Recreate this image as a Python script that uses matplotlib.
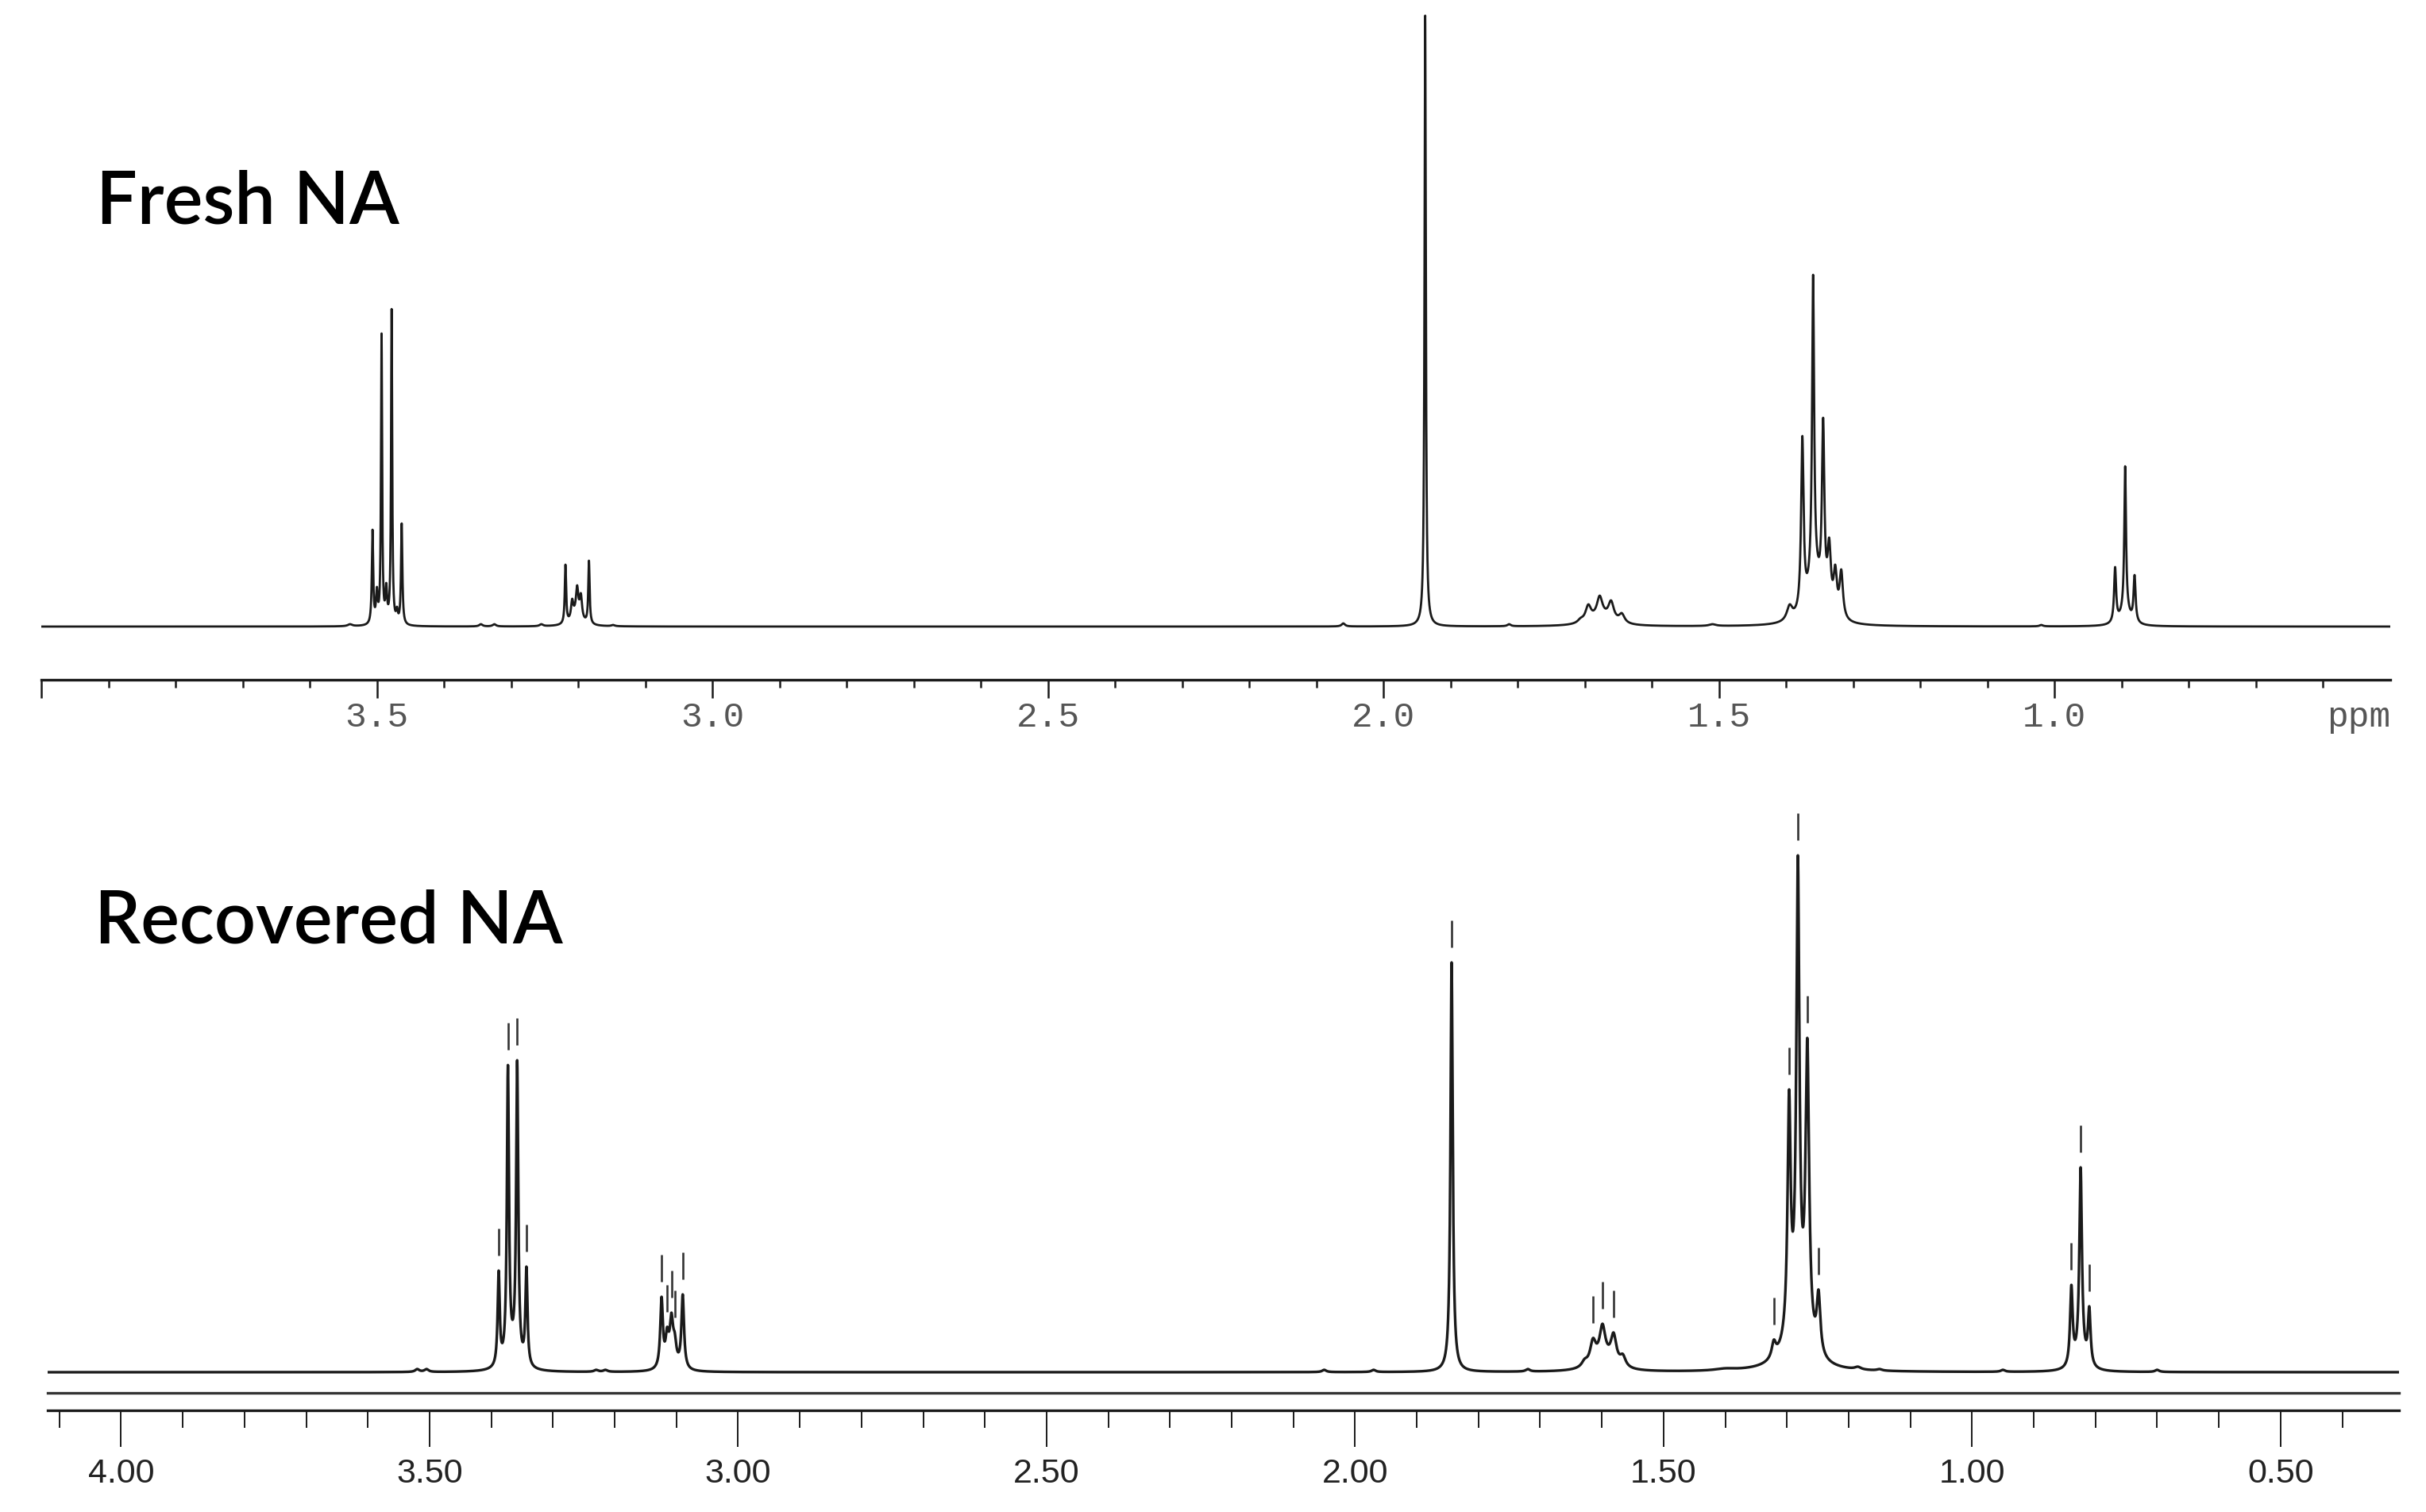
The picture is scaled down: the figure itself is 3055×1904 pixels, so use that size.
import numpy as np
import matplotlib.pyplot as plt
from matplotlib.ticker import FixedLocator, FixedFormatter

# ---- top spectrum (Fresh NA): peak centres (ppm), heights (a.u.), half widths (ppm)
top_ppm = [3.540, 3.5065, 3.500, 3.493, 3.486, 3.478, 3.470, 3.463,
           3.345, 3.325, 3.255,
           3.219, 3.209, 3.2016, 3.196, 3.184, 3.148,
           2.060, 1.938, 1.813,
           1.7065, 1.695, 1.678, 1.661, 1.645,
           1.510,
           1.395, 1.376, 1.360, 1.345, 1.336, 1.327, 1.318,
           1.020, 0.910, 0.895, 0.881]
top_height = [3, 122, 50, 370, 55, 400, 25, 130,
              3, 3, 3,
              78, 35, 52, 42, 83, 2,
              4, 770, 3,
              11, 28, 39, 33, 17,
              3,
              28, 240, 443, 263, 112, 78, 72,
              2, 75, 202, 65]
top_hw = [0.004, 0.0012, 0.0015, 0.0010, 0.0015, 0.0010, 0.0015, 0.0012,
          0.003, 0.003, 0.003,
          0.0012, 0.002, 0.002, 0.002, 0.0012, 0.003,
          0.003, 0.0012, 0.003,
          0.005, 0.005, 0.005, 0.005, 0.005,
          0.006,
          0.005, 0.0022, 0.0018, 0.0022, 0.003, 0.003, 0.003,
          0.003, 0.0018, 0.0015, 0.0018]
# broad humps under the multiplets
top_base_ppm = [3.202, 1.676, 1.358, 0.895]
top_base_amp = [15, 10, 55, 20]
top_base_hw = [0.008, 0.020, 0.012, 0.008]

# ---- bottom spectrum (Recovered NA)
bot_ppm = [3.520, 3.505, 3.388, 3.373, 3.358, 3.343,
           3.230, 3.215,
           3.124, 3.115, 3.108, 3.1026, 3.0897,
           2.050, 1.970, 1.8435, 1.720,
           1.628, 1.6144, 1.599, 1.581, 1.566,
           1.400,
           1.3213, 1.2965, 1.2823, 1.267, 1.2488,
           1.185, 1.150, 0.950,
           0.839, 0.824, 0.810, 0.700]
bot_height = [4, 4, 128, 387, 393, 133,
              3, 3,
              95, 57, 75, 50, 98,
              3, 3, 516, 4,
              17, 43, 61, 50, 23,
              5,
              41, 356, 651, 421, 104,
              7, 4, 3,
              110, 258, 83, 3]
bot_hw = [0.004, 0.004, 0.002, 0.002, 0.002, 0.002,
          0.004, 0.004,
          0.0025, 0.003, 0.003, 0.003, 0.0025,
          0.004, 0.004, 0.0022, 0.004,
          0.0055, 0.0055, 0.0055, 0.0055, 0.0055,
          0.02,
          0.004, 0.003, 0.003, 0.0035, 0.0035,
          0.006, 0.005, 0.004,
          0.0025, 0.0025, 0.0025, 0.004]
bot_base_ppm = [3.365, 3.107, 1.598, 1.285, 0.824]
bot_base_amp = [15, 15, 14, 45, 15]
bot_base_hw = [0.012, 0.008, 0.020, 0.022, 0.010]

# peak-pick marks drawn above the bottom spectrum
bot_marks = [3.388, 3.373, 3.358, 3.343,
             3.124, 3.115, 3.108, 3.1026, 3.0897,
             1.8435,
             1.6144, 1.599, 1.581,
             1.3213, 1.2965, 1.2823, 1.267, 1.2488,
             0.839, 0.824, 0.810]

top_major = [4.0, 3.5, 3.0, 2.5, 2.0, 1.5, 1.0]
top_major_labels = ['', '3.5', '3.0', '2.5', '2.0', '1.5', '1.0']
bot_major = [4.0, 3.5, 3.0, 2.5, 2.0, 1.5, 1.0, 0.5]
bot_major_labels = ['4.00', '3.50', '3.00', '2.50', '2.00', '1.50', '1.00', '0.50']


def lorentz(x, pos, amp, hw):
    x = np.asarray(x, dtype=float)[:, None]
    pos, amp, hw = (np.asarray(v, dtype=float) for v in (pos, amp, hw))
    return (amp / (1 + ((x - pos) / hw) ** 2)).sum(axis=1)


def build(x, ppm, height, hw, b_ppm, b_amp, b_hw):
    ppm, height, hw = (np.asarray(v, dtype=float) for v in (ppm, height, hw))
    base_at = lorentz(ppm, b_ppm, b_amp, b_hw)
    m = 1 / (1 + ((ppm[:, None] - ppm[None, :]) / hw[None, :]) ** 2)
    amp = np.clip(np.linalg.solve(m, height - base_at), 0, None)
    return lorentz(x, ppm, amp, hw) + lorentz(x, b_ppm, b_amp, b_hw)


W, H = 3055, 1904
fig = plt.figure(figsize=(W / 100, H / 100), dpi=100)


def px_axes(x0, y0, x1, y1):
    return fig.add_axes([x0 / W, 1 - y1 / H, (x1 - x0) / W, (y1 - y0) / H])


ink = '#1a1a1a'

# top spectrum
ax1 = px_axes(52, 0, 3010, 800)
x1 = np.linspace(4.0, 0.5, 30000)
y1 = build(x1, top_ppm, top_height, top_hw, top_base_ppm, top_base_amp, top_base_hw)
ax1.plot(x1, y1, color=ink, lw=2.0)
ax1.set_xlim(4.0, 0.5)
ax1.set_ylim(-11, 789)
ax1.axis('off')

# top ppm scale
s1 = px_axes(52, 850, 3010, 856)
s1.set_xlim(4.0, 0.5)
for k in ['top', 'left', 'right']:
    s1.spines[k].set_visible(False)
s1.spines['bottom'].set_linewidth(2.4)
s1.spines['bottom'].set_color(ink)
s1.set_yticks([])
s1.xaxis.set_major_locator(FixedLocator(top_major))
s1.xaxis.set_major_formatter(FixedFormatter(top_major_labels))
s1.xaxis.set_minor_locator(FixedLocator(np.round(np.arange(3.9, 0.55, -0.1), 2)))
s1.tick_params(axis='x', which='major', direction='out', length=16.5, width=1.8,
               color=ink, pad=3, labelsize=32, labelcolor='#555555')
s1.tick_params(axis='x', which='minor', direction='out', length=7.5, width=1.8, color=ink)
for lab in s1.get_xticklabels():
    lab.set_family('Liberation Mono')
fig.text(3010 / W, 1 - 904 / H, 'ppm', ha='right', va='center', fontsize=32,
         color='#555555', family='Liberation Mono')

# bottom spectrum
ax2 = px_axes(60, 1000, 3021, 1754)
x2 = np.linspace(4.119, 0.308, 30000)
y2 = build(x2, bot_ppm, bot_height, bot_hw, bot_base_ppm, bot_base_amp, bot_base_hw)
ax2.plot(x2, y2, color=ink, lw=2.4)
mark_h = np.interp(bot_marks, x2[::-1], y2[::-1])
ax2.vlines(bot_marks, mark_h + 19, mark_h + 53, color='#333333', lw=1.9)
ax2.set_xlim(4.119, 0.308)
ax2.set_ylim(-26, 728)
for k in ['top', 'left', 'right']:
    ax2.spines[k].set_visible(False)
ax2.spines['bottom'].set_linewidth(2.4)
ax2.spines['bottom'].set_color('#333333')
ax2.set_xticks([])
ax2.set_yticks([])

# bottom ppm scale
s2 = px_axes(60, 1770, 3021, 1776)
s2.set_xlim(4.119, 0.308)
for k in ['top', 'left', 'right']:
    s2.spines[k].set_visible(False)
s2.spines['bottom'].set_linewidth(2.4)
s2.spines['bottom'].set_color(ink)
s2.set_yticks([])
s2.xaxis.set_major_locator(FixedLocator(bot_major))
s2.xaxis.set_major_formatter(FixedFormatter(bot_major_labels))
s2.xaxis.set_minor_locator(FixedLocator(np.round(np.arange(4.1, 0.35, -0.1), 2)))
s2.tick_params(axis='x', which='major', direction='out', length=33, width=1.4,
               color=ink, pad=10, labelsize=31, labelcolor='#222222')
s2.tick_params(axis='x', which='minor', direction='out', length=16, width=1.4, color=ink)
for lab in s2.get_xticklabels():
    lab.set_family(['Liberation Sans Narrow', 'Liberation Sans'])

# panel titles
fig.text(121 / W, 1 - 282 / H, 'Fresh NA', fontsize=66, family='Lato', weight='semibold',
         va='baseline', color='black')
fig.text(119 / W, 1 - 1187 / H, 'Recovered NA', fontsize=66, family='Lato', weight='semibold',
         va='baseline', color='black')

fig.savefig('out.png', dpi=100, facecolor='white')
